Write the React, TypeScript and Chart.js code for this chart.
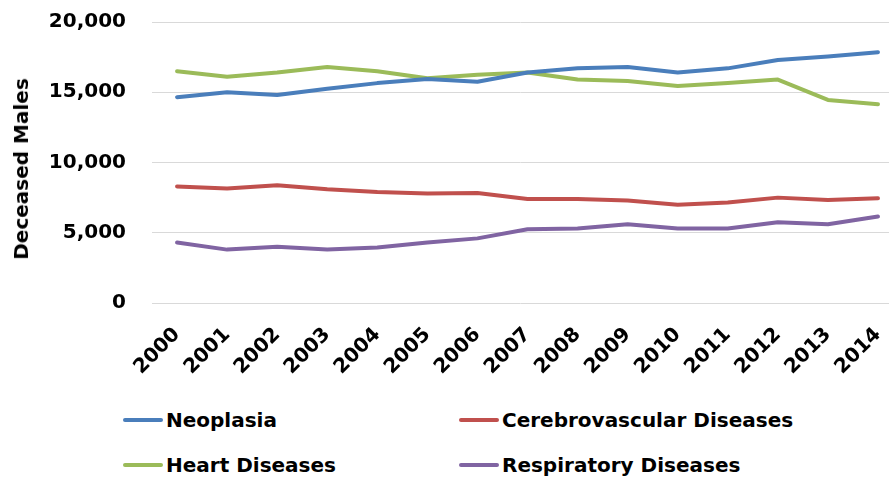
import React, { useEffect, useRef } from "react";
import { Chart, registerables } from "chart.js";

Chart.register(...registerables);

const years = [2000, 2001, 2002, 2003, 2004, 2005, 2006, 2007, 2008, 2009, 2010, 2011, 2012, 2013, 2014];
const neoplasia = [14650, 15000, 14800, 15250, 15650, 15950, 15750, 16400, 16700, 16800, 16400, 16700, 17300, 17550, 17850];
const cerebrovascular = [8300, 8150, 8380, 8100, 7900, 7800, 7830, 7400, 7400, 7300, 7000, 7150, 7500, 7330, 7450];
const heart = [16500, 16100, 16400, 16800, 16500, 16000, 16250, 16400, 15900, 15800, 15450, 15650, 15900, 14450, 14150];
const respiratory = [4300, 3800, 4000, 3800, 3950, 4300, 4600, 5250, 5300, 5600, 5300, 5300, 5750, 5600, 6150];
const yTicks = [0, 5000, 10000, 15000, 20000];

const seriesNames = ["Neoplasia", "Cerebrovascular Diseases", "Heart Diseases", "Respiratory Diseases"];
const seriesColors = ["#4A7EBB", "#C0504D", "#9BBB59", "#8064A2"];
const seriesValues = [neoplasia, cerebrovascular, heart, respiratory];
const yTitle = "Deceased Males";

const FONT = "'DejaVu Sans', sans-serif";

export default function App() {
  const ref = useRef<HTMLCanvasElement | null>(null);

  useEffect(() => {
    if (!ref.current) return;
    const chart = new Chart(ref.current, {
      type: "line",
      data: {
        datasets: seriesNames.map((name, i) => ({
          label: name,
          data: years.map((yr, j) => ({ x: yr, y: seriesValues[i][j] })),
          borderColor: seriesColors[i],
          backgroundColor: seriesColors[i],
          borderWidth: 4,
          pointRadius: 0,
          tension: 0,
          borderCapStyle: "round" as const,
          borderJoinStyle: "round" as const,
        })),
      },
      options: {
        animation: false,
        responsive: false,
        maintainAspectRatio: false,
        layout: { padding: { top: 22, left: 0, right: 0, bottom: 0 } },
        plugins: {
          legend: { display: false },
          tooltip: { enabled: false },
        },
        scales: {
          x: {
            type: "linear",
            min: 1999.5,
            max: 2014.22,
            grid: { display: false, drawTicks: false },
            border: { display: false },
            afterBuildTicks: (axis: any) => {
              axis.ticks = years.map((v) => ({ value: v }));
            },
            afterFit: (axis: any) => {
              axis.height = 97;
              axis.paddingLeft = 0;
              axis.paddingRight = 0;
              axis.paddingTop = 0;
              axis.paddingBottom = 0;
            },
            ticks: {
              autoSkip: false,
              minRotation: 45,
              maxRotation: 45,
              padding: 20,
              color: "#000",
              font: { family: FONT, size: 20, weight: "bold" },
              callback: (v: any) => String(v),
            },
          },
          y: {
            min: 0,
            max: 20000,
            afterBuildTicks: (axis: any) => {
              axis.ticks = yTicks.map((v) => ({ value: v }));
            },
            afterFit: (axis: any) => {
              axis.width = 152;
              axis.paddingLeft = 0;
              axis.paddingRight = 0;
              axis.paddingTop = 0;
              axis.paddingBottom = 0;
            },
            grid: { color: "#D9D9D9", lineWidth: 1, drawTicks: false },
            border: { display: false },
            ticks: {
              padding: 26,
              color: "#000",
              font: { family: FONT, size: 20, weight: "bold" },
              callback: (v: any) => Number(v).toLocaleString("en-US"),
            },
          },
        },
      },
    });
    return () => chart.destroy();
  }, []);

  const legendPos = [
    { x: 123, y: 420 },
    { x: 459, y: 420 },
    { x: 123, y: 465 },
    { x: 459, y: 465 },
  ];

  return (
    <div style={{ position: "absolute", left: 0, top: 0, width: 889, height: 479, background: "#fff", overflow: "hidden" }}>
      <canvas ref={ref} width={889} height={400} style={{ position: "absolute", left: 0, top: 0, width: 889, height: 400 }} />
      <div
        style={{
          position: "absolute",
          left: 21,
          top: 169,
          transform: "translate(-50%, -50%) rotate(-90deg)",
          whiteSpace: "nowrap",
          fontFamily: FONT,
          fontWeight: "bold",
          fontSize: 20,
          lineHeight: "24px",
          color: "#000",
        }}
      >
        {yTitle}
      </div>
      {seriesNames.map((name, i) => (
        <div
          key={name}
          style={{
            position: "absolute",
            left: legendPos[i].x,
            top: legendPos[i].y - 14,
            height: 28,
            display: "flex",
            alignItems: "center",
            whiteSpace: "nowrap",
            fontFamily: FONT,
            fontWeight: "bold",
            fontSize: 20,
            color: "#000",
          }}
        >
          <span style={{ display: "inline-block", width: 40, height: 4, background: seriesColors[i], borderRadius: 2, marginRight: 3 }} />
          <span>{name}</span>
        </div>
      ))}
    </div>
  );
}
